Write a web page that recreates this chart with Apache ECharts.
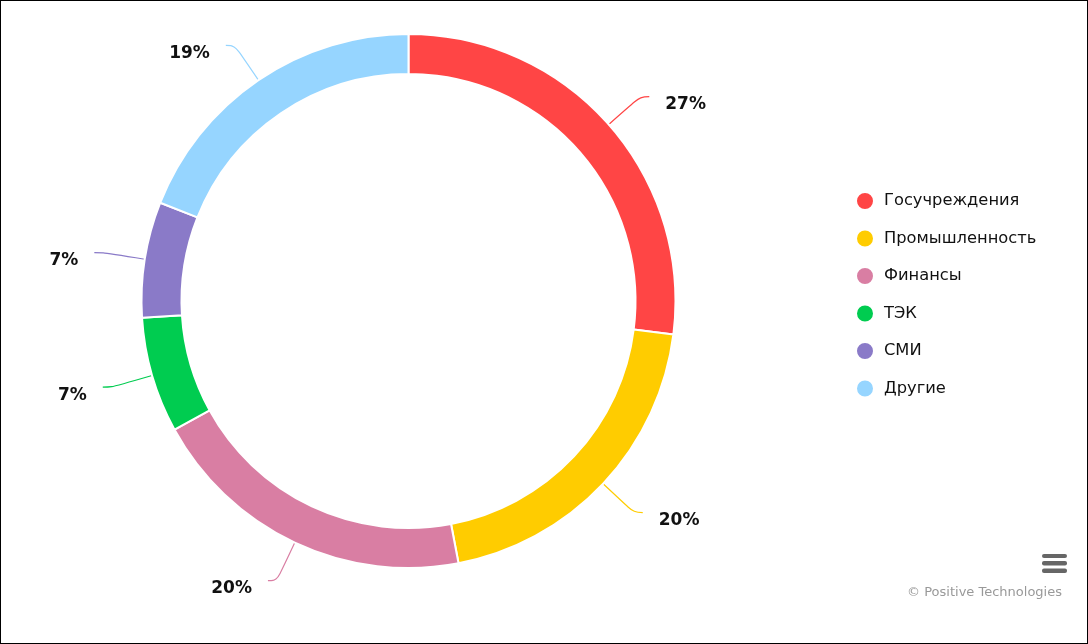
<!DOCTYPE html>
<html>
<head>
<meta charset="utf-8">
<script src="https://cdn.jsdelivr.net/npm/echarts@6/dist/echarts.min.js"></script>
<style>
html,body{margin:0;padding:0;background:#fff;}
#c{width:1088px;height:644px;box-sizing:border-box;border:1px solid #000;}
</style>
</head>
<body>
<div id="c"></div>
<script>
const categories = ["Госучреждения", "Промышленность", "Финансы", "ТЭК", "СМИ", "Другие"];
const values = [27, 20, 20, 7, 7, 19];
const colors = ["#ff4545", "#ffcc00", "#d97ea3", "#00cc50", "#8a7ac8", "#96d5ff"];
const creditText = "© Positive Technologies";

const chart = echarts.init(document.getElementById('c'));
const data = categories.map((n, i) => ({ name: n, value: values[i], itemStyle: { color: colors[i] } }));

chart.setOption({
  animation: false,
  legend: {
    orient: 'vertical',
    left: 849,
    top: 185,
    icon: 'circle',
    itemWidth: 18,
    itemHeight: 18,
    itemGap: 17.5,
    textStyle: { fontFamily: 'DejaVu Sans', fontSize: 16.3, color: '#111', padding: [0, 0, 0, 5] },
    data: categories
  },
  series: [{
    type: 'pie',
    center: [407.5, 300],
    radius: [227, 267],
    startAngle: 90,
    clockwise: true,
    avoidLabelOverlap: false,
    itemStyle: { borderColor: '#fff', borderWidth: 2 },
    label: {
      show: true,
      position: 'outside',
      formatter: '{s|}\n{v|{d}%}',
      distanceToLabelLine: 16,
      rich: {
        s: { height: 16, fontSize: 1 },
        v: { fontFamily: 'DejaVu Sans', fontWeight: 'bold', fontSize: 17, color: '#111', height: 20 }
      }
    },
    labelLine: { show: true, length: 42, length2: 9, smooth: 0.4, lineStyle: { width: 1.2 } },
    emphasis: { disabled: true },
    data: data
  }],
  graphic: [
    { type: 'rect', shape: { x: 1041, y: 553, width: 25, height: 4, r: 2 }, style: { fill: '#666' } },
    { type: 'rect', shape: { x: 1041, y: 560, width: 25, height: 4.5, r: 2 }, style: { fill: '#666' } },
    { type: 'rect', shape: { x: 1041, y: 567.5, width: 25, height: 4.5, r: 2 }, style: { fill: '#666' } },
    { type: 'text', right: 25, top: 585, style: { text: creditText, fontFamily: 'DejaVu Sans', fontSize: 13, fill: '#999' } }
  ]
});
</script>
</body>
</html>
